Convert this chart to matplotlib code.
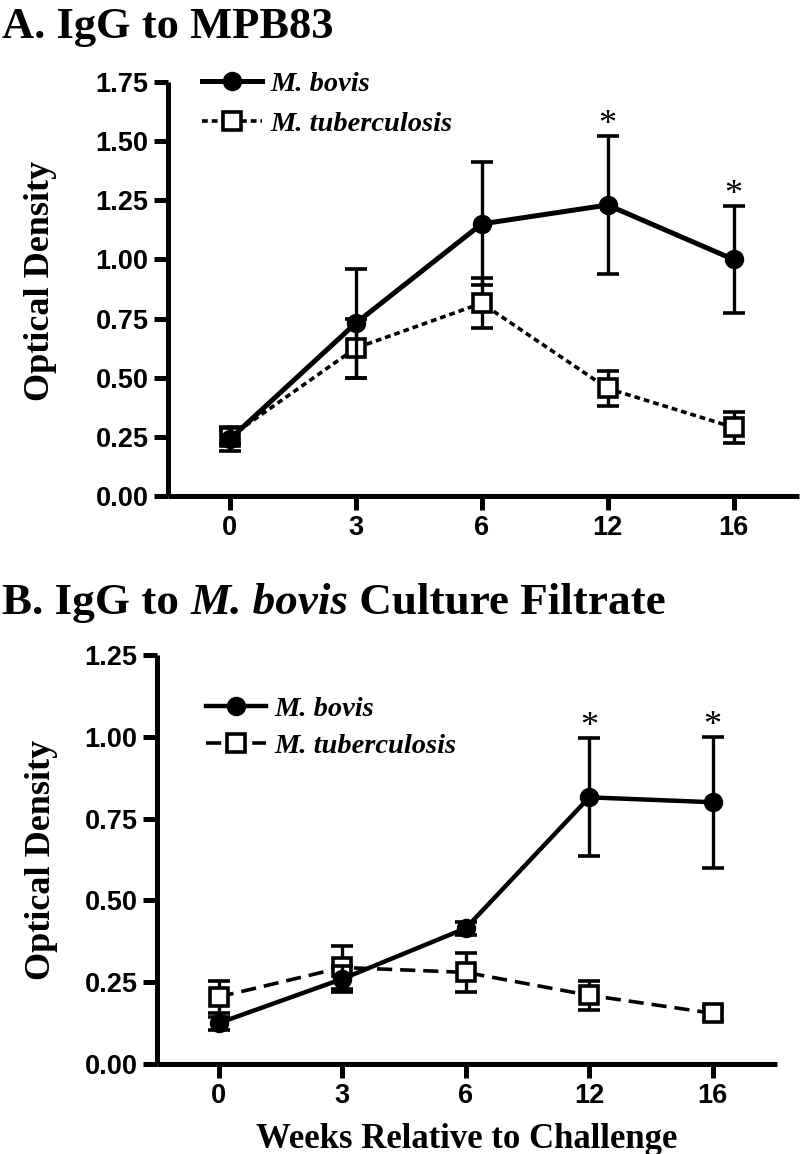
import matplotlib
matplotlib.use("Agg")
import matplotlib.pyplot as plt
from matplotlib.lines import Line2D
import numpy as np

# ---------------- data ----------------
weeks = ["0", "3", "6", "12", "16"]

a_bovis_mean = [0.24, 0.73, 1.15, 1.23, 1.00]
a_bovis_sem = [0.05, 0.23, 0.26, 0.29, 0.225]
a_tb_mean = [0.25, 0.625, 0.815, 0.455, 0.29]
a_tb_sem = [0.03, 0.125, 0.105, 0.075, 0.065]
a_sig = [False, False, False, True, True]

b_bovis_mean = [0.125, 0.26, 0.415, 0.815, 0.80]
b_bovis_sem = [0.02, 0.04, 0.02, 0.18, 0.20]
b_tb_mean = [0.205, 0.295, 0.28, 0.21, 0.155]
b_tb_sem = [0.05, 0.065, 0.06, 0.045, 0.02]
b_sig = [False, False, False, True, True]

a_yticks = [0.00, 0.25, 0.50, 0.75, 1.00, 1.25, 1.50, 1.75]
b_yticks = [0.00, 0.25, 0.50, 0.75, 1.00, 1.25]

series_labels = ["M. bovis", "M. tuberculosis"]

SERIF = "Liberation Serif"
SANS = "Liberation Sans"

W, H = 800, 1154
fig = plt.figure(figsize=(W / 100, H / 100), dpi=100)


def axes_px(left, right, top, bottom):
    return fig.add_axes([left / W, 1 - bottom / H, (right - left) / W, (bottom - top) / H])


def style_axes(ax, yticks, ymax, xlim):
    x = np.arange(len(weeks))
    ax.set_xlim(*xlim)
    ax.set_ylim(0, ymax)
    ax.set_xticks(x)
    ax.set_xticklabels(weeks)
    ax.set_yticks(yticks)
    ax.set_yticklabels([f"{v:.2f}" for v in yticks])
    for s in ["top", "right"]:
        ax.spines[s].set_visible(False)
    for s in ["left", "bottom"]:
        ax.spines[s].set_linewidth(3.6)
        ax.spines[s].set_capstyle("butt")
    ax.tick_params(axis="both", width=3.6, length=10, direction="out", pad=4)
    for lab in ax.get_xticklabels() + ax.get_yticklabels():
        lab.set_fontfamily(SANS)
        lab.set_fontweight("bold")
        lab.set_fontsize(19.5)
    ax.patch.set_alpha(0)


def plot_panel(ax, bm, bs, tm, ts, sig, tb_dash, bov_lw, star_off, legend_anchor, labelspacing):
    x = np.arange(len(weeks))
    ax.errorbar(x, tm, yerr=ts, color="black", lw=2.6, dashes=tb_dash,
                marker="s", ms=12.5, mfc="white", mec="black", mew=2.6,
                ecolor="black", elinewidth=2.4, capsize=8, capthick=2.6, zorder=3)
    ax.errorbar(x, bm, yerr=bs, color="black", lw=bov_lw, linestyle="-",
                marker="o", ms=13, mfc="black", mec="black",
                ecolor="black", elinewidth=2.4, capsize=8, capthick=2.6, zorder=4)
    for xi, m, s, flag in zip(x, bm, bs, sig):
        if flag:
            ax.text(xi, m + s + star_off, "*", ha="center", va="center",
                    fontsize=26, fontfamily=SERIF, color="black")
    h_bov = Line2D([], [], color="black", lw=bov_lw, marker="o", ms=13, mfc="black", mec="black")
    h_tb = Line2D([], [], color="black", lw=2.6, dashes=tb_dash, marker="s", ms=12.5,
                  mfc="white", mec="black", mew=2.6)
    ax.legend([h_bov, h_tb], series_labels, loc="upper left", bbox_to_anchor=legend_anchor,
              frameon=False, borderpad=0, borderaxespad=0,
              handlelength=2.1, handletextpad=0.3, labelspacing=labelspacing,
              prop={"family": SERIF, "style": "italic", "weight": "bold", "size": 20.5})


# ---------------- panel A ----------------
axA = axes_px(168, 799, 82, 496)
style_axes(axA, a_yticks, 1.75, (-0.49, 4.52))
plot_panel(axA, a_bovis_mean, a_bovis_sem, a_tb_mean, a_tb_sem, a_sig,
           (1.6, 1.1), 3.6, 0.045, (0.054, 1.026), 0.5)
axA.set_ylabel("Optical Density", fontfamily=SERIF, fontweight="bold", fontsize=26)
axA.yaxis.set_label_coords(-0.176, 0.52)

# ---------------- panel B ----------------
axB = axes_px(157, 777, 655, 1064)
style_axes(axB, b_yticks, 1.25, (-0.5, 4.52))
plot_panel(axB, b_bovis_mean, b_bovis_sem, b_tb_mean, b_tb_sem, b_sig,
           (4.2, 2.2), 3.2, 0.033, (0.079, 0.90), 0.38)
axB.set_ylabel("Optical Density", fontfamily=SERIF, fontweight="bold", fontsize=26)
axB.yaxis.set_label_coords(-0.16, 0.5)
axB.set_xlabel("Weeks Relative to Challenge", fontfamily=SERIF, fontweight="bold", fontsize=25)
axB.xaxis.set_label_coords(0.5, -0.145)


# ---------------- titles with mixed styles ----------------
def rich_title(x_px, y_px, parts, size):
    renderer = fig.canvas.get_renderer()
    x = x_px / W
    y = 1 - y_px / H
    for txt, style in parts:
        t = fig.text(x, y, txt, fontfamily=SERIF, fontweight="bold", fontstyle=style,
                     fontsize=size, ha="left", va="baseline")
        bb = t.get_window_extent(renderer=renderer)
        x = x + bb.width / W


rich_title(2, 38, [("A. IgG to MPB83", "normal")], 32)
rich_title(2, 614, [("B. IgG to ", "normal"), ("M. bovis", "italic"),
                    (" Culture Filtrate", "normal")], 32.5)

fig.savefig("out.png", dpi=100)
